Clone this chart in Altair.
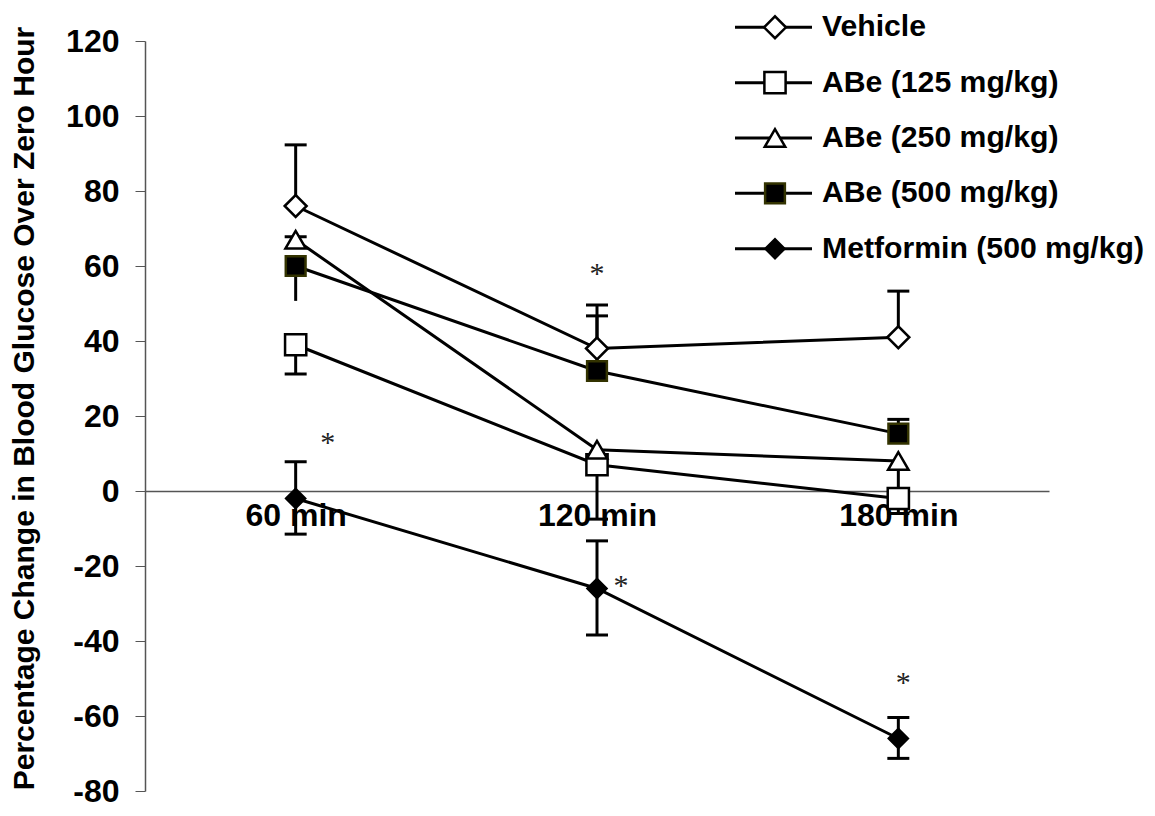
import altair as alt
import pandas as pd

# ---------------- data ----------------
times = ["60 min", "120 min", "180 min"]
series = ["Vehicle", "ABe (125 mg/kg)", "ABe (250 mg/kg)", "ABe (500 mg/kg)", "Metformin (500 mg/kg)"]

vehicle = [76, 38, 41]
abe125 = [39, 7, -2]
abe250 = [67, 11, 8]
abe500 = [60, 32, 15.3]
metformin = [-2, -26, -66]

# error bar ends (None = no bar in that direction)
vehicle_hi = [92.3, 49.6, 53.3]
vehicle_lo = [None, None, None]
abe125_hi = [None, None, None]
abe125_lo = [31.2, -7.5, -6.0]
abe250_hi = [67.8, None, None]
abe250_lo = [None, None, -4.6]
abe500_hi = [None, 46.7, 19.1]
abe500_lo = [50.7, None, None]
metformin_hi = [7.8, -13.3, -60.4]
metformin_lo = [-11.5, -38.4, -71.3]
# error bar ends drawn without a cap
capless = [("ABe (500 mg/kg)", "60 min", "lo")]

# significance asterisks
ast_time = ["60 min", "120 min", "120 min", "180 min"]
ast_y = [14.5, 59.4, -23.7, -49.5]
ast_nudge = [32, 0, 24, 5]

vals = [vehicle, abe125, abe250, abe500, metformin]
his = [vehicle_hi, abe125_hi, abe250_hi, abe500_hi, metformin_hi]
los = [vehicle_lo, abe125_lo, abe250_lo, abe500_lo, metformin_lo]

rows, err_rows, cap_rows = [], [], []
for s, v, hi, lo in zip(series, vals, his, los):
    for t, vv, h, l in zip(times, v, hi, lo):
        rows.append({"series": s, "time": t, "y": vv})
        for end, tag in ((h, "hi"), (l, "lo")):
            if end is None:
                continue
            err_rows.append({"series": s, "time": t, "y": vv, "y2": end})
            if (s, t, tag) not in capless:
                cap_rows.append({"series": s, "time": t, "y": end})

df = pd.DataFrame(rows)
df_err = pd.DataFrame(err_rows)
df_cap = pd.DataFrame(cap_rows)
df_leg = pd.DataFrame({"series": series})
df_ast = pd.DataFrame({"time": ast_time, "y": ast_y})

# ---------------- styling ----------------
FONT = "Liberation Sans"
TITLE = "Percentage Change in Blood Glucose Over Zero Hour"
W, H = 904, 750

shape_scale = alt.Scale(domain=series, range=["diamond", "square", "triangle-up", "square", "diamond"])
fill_scale = alt.Scale(domain=series, range=["white", "white", "white", "black", "black"])
stroke_scale = alt.Scale(domain=series, range=["black", "black", "black", "#333300", "black"])
size_scale = alt.Scale(domain=series, range=[480, 360, 480, 360, 480])

xscale = alt.Scale(type="point", domain=times, padding=0.5)
yscale = alt.Scale(domain=[-80, 120], nice=False, zero=False)

xax = alt.Axis(title=None, offset=-300, labelFont=FONT, labelFontSize=32, labelFontWeight="bold",
               labelColor="black", labelAngle=0, labelPadding=9, ticks=False,
               domainColor="#555555", domainWidth=1.5)
yax = alt.Axis(title=TITLE, values=list(range(-80, 121, 20)), labelExpr="'' + datum.value",
               tickSize=10, tickColor="#555555",
               tickWidth=1, domainColor="#555555", domainWidth=1.5, labelFont=FONT,
               labelFontSize=32, labelFontWeight="bold", labelColor="black", labelPadding=16,
               titleFont=FONT, titleFontSize=30, titleFontWeight="bold", titleColor="black",
               titleX=-121, titleY=367, titleAngle=270, titleAlign="center",
               titleBaseline="middle", grid=False)

X = alt.X("time:O", sort=times, scale=xscale, axis=xax)


def Y(field="y"):
    return alt.Y(f"{field}:Q", scale=yscale, axis=yax)


lines = alt.Chart(df).mark_line(color="black", strokeWidth=3).encode(
    x=X, y=Y(), detail="series:N", order="time_idx:Q"
).transform_calculate(time_idx="indexof(['60 min','120 min','180 min'], datum.time)")

errs = alt.Chart(df_err).mark_rule(color="black", strokeWidth=3).encode(
    x=X, y=Y(), y2="y2:Q"
)

caps = alt.Chart(df_cap).mark_tick(color="black", thickness=3, size=22, opacity=1).encode(
    x=X, y=Y()
)

points = alt.Chart(df).mark_point(filled=False, opacity=1, strokeWidth=2.5).encode(
    x=X, y=Y(),
    shape=alt.Shape("series:N", scale=shape_scale, legend=None),
    fill=alt.Fill("series:N", scale=fill_scale, legend=None),
    stroke=alt.Stroke("series:N", scale=stroke_scale, legend=None),
    size=alt.Size("series:N", scale=size_scale, legend=None),
)

ast_layers = []
for i, dx in enumerate(ast_nudge):
    ast_layers.append(
        alt.Chart(df_ast.iloc[[i]]).mark_text(
            text="*", font="Liberation Serif", fontSize=30, color="#222222",
            baseline="alphabetic", dx=dx, dy=15
        ).encode(x=X, y=Y())
    )

main = alt.layer(lines, errs, caps, points, *ast_layers)

# ---------------- legend ----------------
LY = alt.Y("series:N", sort=series,
           scale=alt.Scale(type="point", domain=series, range=[-13.7, 207.7], padding=0),
           axis=None)
leg_line = alt.Chart(df_leg).mark_rule(color="black", strokeWidth=3).encode(
    x=alt.value(590), x2=alt.value(667), y=LY
)
leg_pts = alt.Chart(df_leg).mark_point(filled=False, opacity=1, strokeWidth=2.5).encode(
    x=alt.value(630), y=LY,
    shape=alt.Shape("series:N", scale=shape_scale, legend=None),
    fill=alt.Fill("series:N", scale=fill_scale, legend=None),
    stroke=alt.Stroke("series:N", scale=stroke_scale, legend=None),
    size=alt.Size("series:N", scale=size_scale, legend=None),
)
leg_txt = alt.Chart(df_leg).mark_text(
    align="left", baseline="middle", font=FONT, fontSize=30.2, fontWeight="bold", color="black"
).encode(x=alt.value(677), y=LY, text="series:N")

legend = alt.layer(leg_line, leg_pts, leg_txt)

chart = alt.layer(main, legend).resolve_scale(y="independent").properties(
    width=W, height=H,
    autosize=alt.AutoSizeParams(type="none"),
    padding={"left": 137, "top": 33, "right": 98, "bottom": 17},
    background="white",
).configure_view(stroke=None)

chart.save("out.html", embed_options={"renderer": "svg", "actions": False})
